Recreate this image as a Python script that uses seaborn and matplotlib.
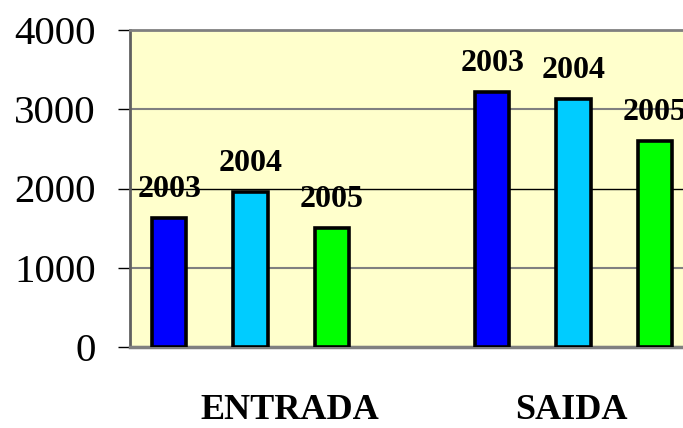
import matplotlib
matplotlib.use("Agg")
import matplotlib.pyplot as plt
import seaborn as sns
import pandas as pd
from matplotlib.transforms import ScaledTranslation

# ---- data ----
groups = ["ENTRADA", "SAIDA"]
years = ["2003", "2004", "2005"]
entrada = [1625, 1955, 1500]
saida = [3215, 3130, 2600]
y_ticks = [0, 1000, 2000, 3000, 4000]
colors = ["#0000FF", "#00CCFF", "#00FF00"]

df = pd.DataFrame({
    "grupo": [g for g in groups for _ in years],
    "ano": years * 2,
    "valor": entrada + saida,
})

sns.set_theme(style="white")
plt.rcParams['font.family'] = ['Liberation Serif', 'DejaVu Serif']
plt.rcParams['text.color'] = 'black'
plt.rcParams['xtick.color'] = 'black'
plt.rcParams['ytick.color'] = 'black'
plt.rcParams['xtick.labelcolor'] = 'black'
plt.rcParams['ytick.labelcolor'] = 'black'

W, H = 683, 428
fig = plt.figure(figsize=(W / 100, H / 100), dpi=100)
ax = fig.add_axes([130 / W, 1 - 347 / H, 1 - 130 / W, (347 - 30) / H])
ax.set_facecolor("#FFFFCC")

sns.barplot(data=df, x="grupo", y="valor", hue="ano", order=groups,
            hue_order=years, palette=colors, width=0.753, gap=0.58,
            edgecolor="black", linewidth=2.6, saturation=1, ax=ax,
            legend=False, zorder=3)

for container, yr in zip(ax.containers, years):
    for bar in container:
        ax.annotate(yr, (bar.get_x() + bar.get_width() / 2, bar.get_height()),
                    xytext=(0, 15), textcoords="offset points",
                    ha="center", va="baseline", fontsize=23,
                    fontweight="bold", color="black", annotation_clip=False,
                    zorder=4)

ax.set_ylim(0, 4000)
ax.set_yticks(y_ticks)
ax.set_yticklabels([str(v) for v in y_ticks], fontsize=29.5, color="black")
ax.set_xlim(-0.373, 1.339)
ax.set_xlabel("")
ax.set_ylabel("")

ax.tick_params(axis="y", direction="out", length=8.6, width=1, color="black",
               pad=16, left=True)
ax.tick_params(axis="x", length=0, pad=34)
for lbl in ax.get_xticklabels():
    lbl.set_fontsize(26)
    lbl.set_fontweight("bold")
    lbl.set_color("black")
xl = ax.get_xticklabels()
xl[0].set_transform(xl[0].get_transform() + ScaledTranslation(0.39, 0, fig.dpi_scale_trans))
xl[1].set_transform(xl[1].get_transform() + ScaledTranslation(-0.025, 0, fig.dpi_scale_trans))

ax.yaxis.grid(True, color="#808080", linewidth=1.5, zorder=0)
ax.set_axisbelow(True)
for v, gl in zip(y_ticks, ax.yaxis.get_gridlines()):
    if v == 2000:
        gl.set_color("black")
        gl.set_linewidth(1.0)

ax.spines["right"].set_visible(False)
ax.spines["top"].set_color("#808080")
ax.spines["top"].set_linewidth(2)
ax.spines["bottom"].set_color("#808080")
ax.spines["bottom"].set_linewidth(2.5)
ax.spines["left"].set_color("#606060")
ax.spines["left"].set_linewidth(2)

fig.savefig("out.png", dpi=100)
